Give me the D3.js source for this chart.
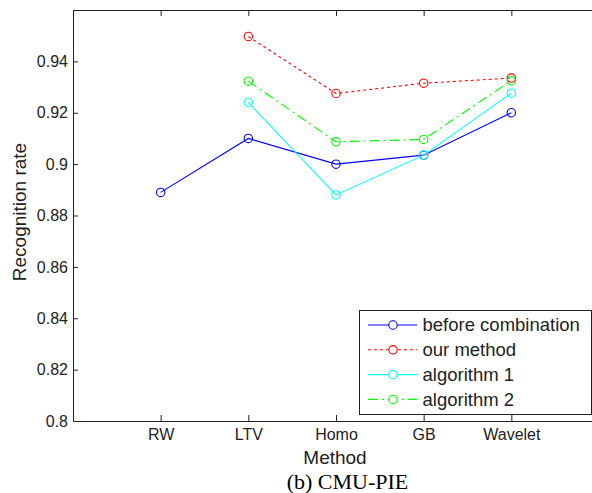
<!DOCTYPE html>
<html>
<head>
<meta charset="utf-8">
<script src="https://cdn.jsdelivr.net/npm/d3@7"></script>
<style>
  body { margin: 0; background: #fff; }
  svg { display: block; }
  text { font-family: "Liberation Sans", Arial, sans-serif; }
</style>
</head>
<body>
<div id="chart"></div>
<script>
// data
var methods = ["RW", "LTV", "Homo", "GB", "Wavelet"];
var beforeCombination = [0.889, 0.910, 0.900, 0.9035, 0.920];
var ourMethod = [null, 0.9497, 0.9275, 0.9315, 0.9335];
var algorithm1 = [null, 0.924, 0.888, 0.9035, 0.9276];
var algorithm2 = [null, 0.9323, 0.9087, 0.9096, 0.9325];
var yTicks = [0.8, 0.82, 0.84, 0.86, 0.88, 0.9, 0.92, 0.94];
var yTickLabels = ["0.8", "0.82", "0.84", "0.86", "0.88", "0.9", "0.92", "0.94"];

var series = [
  { name: "before combination", values: beforeCombination, color: "#0000ff", dash: null },
  { name: "our method", values: ourMethod, color: "#ff0000", dash: "3,3" },
  { name: "algorithm 1", values: algorithm1, color: "#00ffff", dash: null },
  { name: "algorithm 2", values: algorithm2, color: "#00ff00", dash: "10,4,2,4" }
];

var svgWidth = 592;
var svgHeight = 493;

var svg = d3.select("#chart")
  .append("svg")
  .attr("width", svgWidth)
  .attr("height", svgHeight);

// axes box (right edge falls just outside the picture)
var box = { left: 73, right: 599, top: 10, bottom: 421 };

var xScale = d3.scaleLinear()
  .domain([0, methods.length + 1])
  .range([box.left, box.right]);

var yScale = d3.scaleLinear()
  .domain([0.8, 0.96])
  .range([box.bottom, box.top]);

// box
svg.append("rect")
  .attr("x", box.left + 0.5)
  .attr("y", box.top + 0.5)
  .attr("width", box.right - box.left)
  .attr("height", box.bottom - box.top)
  .attr("fill", "none")
  .attr("stroke", "#222");

// bottom axis, ticks pointing inward
var xIdx = methods.map((m, i) => i + 1);
var bottomAxis = d3.axisBottom(xScale)
  .tickValues(xIdx)
  .tickFormat((d, i) => methods[i])
  .tickSizeInner(-6)
  .tickSizeOuter(0)
  .tickPadding(8);

var gx = svg.append("g")
  .attr("transform", `translate(0, ${box.bottom})`)
  .call(bottomAxis);

var topAxis = d3.axisTop(xScale)
  .tickValues(xIdx)
  .tickFormat("")
  .tickSizeInner(-6)
  .tickSizeOuter(0);

var gt = svg.append("g")
  .attr("transform", `translate(0, ${box.top})`)
  .call(topAxis);

var leftAxis = d3.axisLeft(yScale)
  .tickValues(yTicks)
  .tickFormat((d, i) => yTickLabels[i])
  .tickSizeInner(-5)
  .tickSizeOuter(0)
  .tickPadding(5);

var gy = svg.append("g")
  .attr("transform", `translate(${box.left}, 0)`)
  .call(leftAxis);

[gx, gt, gy].forEach(function(g) {
  g.select(".domain").attr("stroke", "#222");
  g.selectAll(".tick line").attr("stroke", "#222");
  g.selectAll(".tick text")
    .style("font-size", "16px")
    .style("font-family", "'Liberation Sans', Arial, sans-serif")
    .attr("fill", "#222");
});

// lines and markers
var line = d3.line()
  .defined(d => d != null)
  .x((d, i) => xScale(i + 1))
  .y(d => yScale(d));

series.forEach(function(s) {
  svg.append("path")
    .datum(s.values)
    .attr("fill", "none")
    .attr("stroke", s.color)
    .attr("stroke-width", 1.1)
    .attr("stroke-dasharray", s.dash)
    .attr("d", line);

  svg.selectAll(null)
    .data(s.values.map((v, i) => ({ v: v, i: i })).filter(d => d.v != null))
    .enter()
    .append("circle")
    .attr("cx", d => xScale(d.i + 1))
    .attr("cy", d => yScale(d.v))
    .attr("r", 4.2)
    .attr("fill", "none")
    .attr("stroke", s.color)
    .attr("stroke-width", 1.1);
});

// legend
var legend = svg.append("g");
legend.append("rect")
  .attr("x", 359.5)
  .attr("y", 310.5)
  .attr("width", 232)
  .attr("height", 104)
  .attr("fill", "#fff")
  .attr("stroke", "#222");

series.forEach(function(s, i) {
  var y = 325 + i * 24.8;
  legend.append("line")
    .attr("x1", 368).attr("x2", 417)
    .attr("y1", y).attr("y2", y)
    .attr("stroke", s.color)
    .attr("stroke-width", 1.1)
    .attr("stroke-dasharray", s.dash);
  legend.append("circle")
    .attr("cx", 393).attr("cy", y)
    .attr("r", 4.2)
    .attr("fill", "#fff")
    .attr("stroke", s.color)
    .attr("stroke-width", 1.1);
  legend.append("text")
    .attr("x", 422.5)
    .attr("y", y)
    .attr("dy", "0.35em")
    .style("font-size", "18.5px")
    .attr("fill", "#222")
    .text(s.name);
});

// axis labels
svg.append("text")
  .attr("x", 335)
  .attr("y", 464)
  .attr("text-anchor", "middle")
  .style("font-size", "19px")
  .attr("fill", "#222")
  .text("Method");

svg.append("text")
  .attr("transform", "rotate(-90)")
  .attr("x", -212)
  .attr("y", 26)
  .attr("text-anchor", "middle")
  .style("font-size", "19px")
  .attr("fill", "#222")
  .text("Recognition rate");

// caption
svg.append("text")
  .attr("x", 347.5)
  .attr("y", 489)
  .attr("text-anchor", "middle")
  .style("font-family", "'Liberation Serif', 'Times New Roman', serif")
  .style("font-size", "22px")
  .attr("fill", "#000")
  .text("(b) CMU-PIE");
</script>
</body>
</html>
